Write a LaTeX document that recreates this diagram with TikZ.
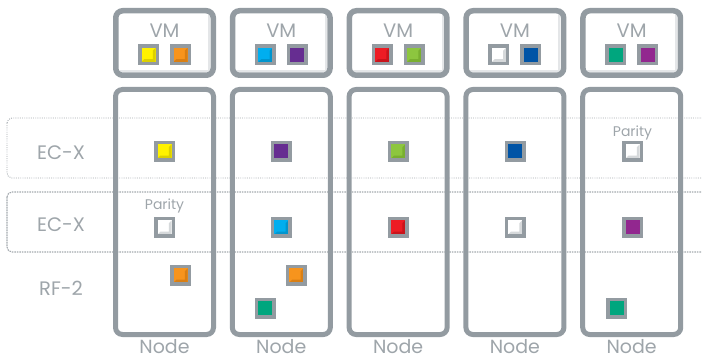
\documentclass[tikz,border=0pt]{standalone}
\usepackage{fontspec}
\setmainfont{Poppins}
\usetikzlibrary{calc}
\definecolor{bx}{HTML}{939BA1}
\definecolor{txt}{HTML}{9EA5AA}
\definecolor{dotc}{HTML}{A3A9AE}
\definecolor{shd}{HTML}{E4E6E8}
\definecolor{cyel}{HTML}{FFF200}\definecolor{cyelb}{HTML}{DCD000}
\definecolor{cora}{HTML}{F7941D}\definecolor{corab}{HTML}{D97F14}
\definecolor{ccya}{HTML}{00AEEF}\definecolor{ccyab}{HTML}{0095CE}
\definecolor{cpur}{HTML}{662D91}
\definecolor{cred}{HTML}{ED1C24}\definecolor{credb}{HTML}{C9141B}
\definecolor{clim}{HTML}{8DC63F}\definecolor{climb}{HTML}{79AF30}
\definecolor{cblu}{HTML}{0054A6}
\definecolor{cgrn}{HTML}{00A67E}
\definecolor{cmag}{HTML}{92278F}
\definecolor{cwht}{HTML}{FFFFFF}\definecolor{cwhtb}{HTML}{D6D9DB}
\tikzset{
  vmbox/.style={draw=bx, line width=5.5, rounded corners=7, minimum width=97.5, minimum height=64.5, inner sep=0},
  ndbox/.style={draw=bx, line width=5, rounded corners=7, minimum width=98, minimum height=245, inner sep=0},
  lbl/.style={text=txt, font=\fontsize{19.5}{20}\selectfont, inner sep=0, anchor=base},
  nlbl/.style={text=txt, font=\fontsize{19}{19}\selectfont, inner sep=0, anchor=base},
  plbl/.style={text=txt, font=\fontsize{14}{14}\selectfont, inner sep=0, anchor=base},
  sq/.style={draw=bx, line width=3.5, minimum size=17.5, inner sep=0, rectangle, fill=#1},
  bev/.style={path picture={
    \fill[#1] ($(path picture bounding box.south west)+(1.75pt,1.75pt)$)
      -- ($(path picture bounding box.south east)+(-1.75pt,1.75pt)$)
      -- ($(path picture bounding box.north east)+(-1.75pt,-1.75pt)$)
      -- ($(path picture bounding box.north east)+(-4.5pt,-4.5pt)$)
      -- ($(path picture bounding box.south east)+(-4.5pt,4.5pt)$)
      -- ($(path picture bounding box.south west)+(4.5pt,4.5pt)$) -- cycle;}},
  rowa/.style={draw=dotc, line width=0.9, dash pattern=on 0.9pt off 1.3pt, rounded corners=5},
  rowb/.style={draw=dotc, line width=1.1, dash pattern=on 1.6pt off 0.9pt, rounded corners=5},
}
\begin{document}
\begin{tikzpicture}[x=1pt,y=-1pt]
\useasboundingbox (0,0) rectangle (702,358);
\clip (0,0) rectangle (702,358);
% row bands
\draw[rowa] (7,118) rectangle (720,178);
\draw[rowb] (7,192) rectangle (720,252);
\node[lbl] (r1) at (61,159.5) {EC-X};
\node[lbl] (r2) at (61,231.5) {EC-X};
\node[lbl] (r3) at (61,296) {RF-2};
% columns
\foreach \i/\c in {1/164.5,2/281.3,3/398.1,4/514.9,5/631.7}{
  \draw[shd, line width=2] (\c-45,71) -- (\c+44.5,71) -- (\c+44.5,14);
  \node[vmbox] (vm\i) at (\c,43) {};
  \node[lbl] (vmt\i) at (\c,38) {VM};
  \node[ndbox] (nd\i) at (\c,212) {};
  \node[nlbl] (ndt\i) at (\c,353) {Node};
}
% VM squares
\node[sq=cyel, bev=cyelb] (v1a) at (148.5,55) {};
\node[sq=cora, bev=corab] (v1b) at (180.5,55) {};
\node[sq=ccya, bev=ccyab] (v2a) at (265.3,55) {};
\node[sq=cpur] (v2b) at (297.3,55) {};
\node[sq=cred, bev=credb] (v3a) at (382.1,55) {};
\node[sq=clim, bev=climb] (v3b) at (414.1,55) {};
\node[sq=cwht, bev=cwhtb] (v4a) at (498.9,55) {};
\node[sq=cblu] (v4b) at (530.9,55) {};
\node[sq=cgrn] (v5a) at (615.7,55) {};
\node[sq=cmag] (v5b) at (647.7,55) {};
% node column 1
\node[sq=cyel, bev=cyelb] (n1a) at (164.5,151.5) {};
\node[plbl] (p1) at (164.5,209.3) {Parity};
\node[sq=cwht, bev=cwhtb] (n1b) at (164.5,227.5) {};
\node[sq=cora, bev=corab] (n1c) at (180.5,275.5) {};
% column 2
\node[sq=cpur] (n2a) at (281.3,151.5) {};
\node[sq=ccya, bev=ccyab] (n2b) at (281.3,227.5) {};
\node[sq=cora, bev=corab] (n2c) at (296.3,275.5) {};
\node[sq=cgrn] (n2d) at (265,308.5) {};
% column 3
\node[sq=clim, bev=climb] (n3a) at (398.1,151.5) {};
\node[sq=cred, bev=credb] (n3b) at (398.1,227.5) {};
% column 4
\node[sq=cblu] (n4a) at (515,151.5) {};
\node[sq=cwht, bev=cwhtb] (n4b) at (515,227.5) {};
% column 5
\node[plbl] (p5) at (632.5,136.5) {Parity};
\node[sq=cwht, bev=cwhtb] (n5a) at (632.5,151.5) {};
\node[sq=cmag] (n5b) at (632.5,227.5) {};
\node[sq=cgrn] (n5c) at (616.7,308.5) {};
\end{tikzpicture}
\end{document}
